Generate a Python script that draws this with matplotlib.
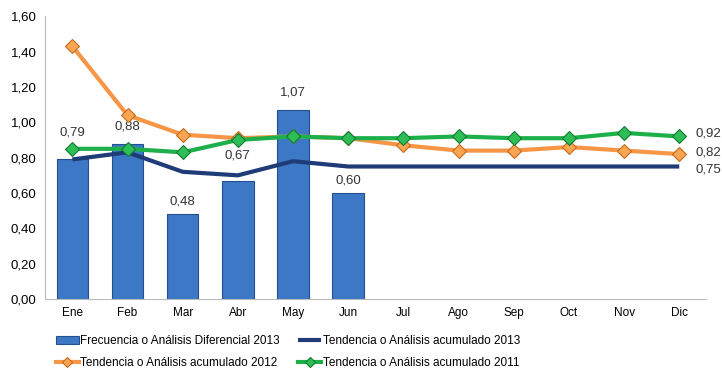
import matplotlib.pyplot as plt
import numpy as np

months = ['Ene', 'Feb', 'Mar', 'Abr', 'May', 'Jun', 'Jul', 'Ago', 'Sep', 'Oct', 'Nov', 'Dic']
frecuencia_2013 = [0.79, 0.88, 0.48, 0.67, 1.07, 0.60]
tendencia_2013 = [0.79, 0.83, 0.72, 0.70, 0.78, 0.75, 0.75, 0.75, 0.75, 0.75, 0.75, 0.75]
tendencia_2012 = [1.43, 1.04, 0.93, 0.91, 0.92, 0.91, 0.87, 0.84, 0.84, 0.86, 0.84, 0.82]
tendencia_2011 = [0.85, 0.85, 0.83, 0.90, 0.92, 0.91, 0.91, 0.92, 0.91, 0.91, 0.94, 0.92]


def fmt(v):
    return '{:.2f}'.format(v).replace('.', ',')


plt.rcParams['font.family'] = ['Liberation Sans', 'DejaVu Sans']

fig = plt.figure(figsize=(7.22, 3.85), dpi=100)
ax = fig.add_axes([0.062, 0.223, 0.917, 0.735])

x = np.arange(len(months))
xb = x[:len(frecuencia_2013)]

ax.bar(xb, frecuencia_2013, width=0.57, color='#3D78C6', edgecolor='#24508F',
       linewidth=0.8, label='Frecuencia o Análisis Diferencial 2013', zorder=2)

ax.plot(x, tendencia_2013, color='#1F3C78', linewidth=3, solid_capstyle='butt',
        label='Tendencia o Análisis acumulado 2013', zorder=3)
ax.plot(x, tendencia_2012, color='#F79646', linewidth=3, marker='D', markersize=7,
        markerfacecolor='#F9A552', markeredgecolor='#C46A1E', markeredgewidth=0.8,
        label='Tendencia o Análisis acumulado 2012', zorder=4)
ax.plot(x, tendencia_2011, color='#1DB04A', linewidth=3, marker='D', markersize=7,
        markerfacecolor='#2DBF55', markeredgecolor='#137A33', markeredgewidth=0.8,
        label='Tendencia o Análisis acumulado 2011', zorder=5)

# bar value labels (Excel moved a few of them up to dodge the lines)
label_offsets = [15, 8, 5, 14, 8, 5]
for xi, v, off in zip(xb, frecuencia_2013, label_offsets):
    ax.annotate(fmt(v), (xi, v), xytext=(0, off), textcoords='offset points',
                ha='center', va='bottom', fontsize=9.5, color='#333333')

# end-of-line labels
for series, dy in [(tendencia_2011, 2), (tendencia_2012, 1), (tendencia_2013, -2)]:
    ax.annotate(fmt(series[-1]), (x[-1], series[-1]), xytext=(12, dy),
                textcoords='offset points', ha='left', va='center',
                fontsize=9.5, color='#333333')

ax.set_xlim(-0.5, len(months) - 0.5)
ax.set_ylim(0, 1.6)
ax.set_yticks(np.arange(0, 1.61, 0.2))
ax.set_yticklabels([fmt(v) for v in np.arange(0, 1.61, 0.2)], fontsize=9.5)
ax.set_xticks(x)
ax.set_xticklabels(months, fontsize=8.5)
ax.tick_params(axis='both', length=0, pad=6)

for side in ['top', 'right']:
    ax.spines[side].set_visible(False)
ax.spines['left'].set_color('#BBBBBB')
ax.spines['bottom'].set_color('#BBBBBB')
ax.spines['bottom'].set_linestyle((0, (1, 1)))

# legend is filled column by column
handles, labels = ax.get_legend_handles_labels()
order = [labels.index('Frecuencia o Análisis Diferencial 2013'),
         labels.index('Tendencia o Análisis acumulado 2012'),
         labels.index('Tendencia o Análisis acumulado 2013'),
         labels.index('Tendencia o Análisis acumulado 2011')]
fig.legend([handles[i] for i in order], [labels[i] for i in order],
           loc='upper left', bbox_to_anchor=(0.077, 0.13), ncol=2, frameon=False,
           fontsize=8.5, handlelength=2.0, handletextpad=0.1, markerscale=0.75,
           columnspacing=1.5, labelspacing=0.85, borderpad=0, borderaxespad=0)

fig.savefig('out.png', dpi=100)
